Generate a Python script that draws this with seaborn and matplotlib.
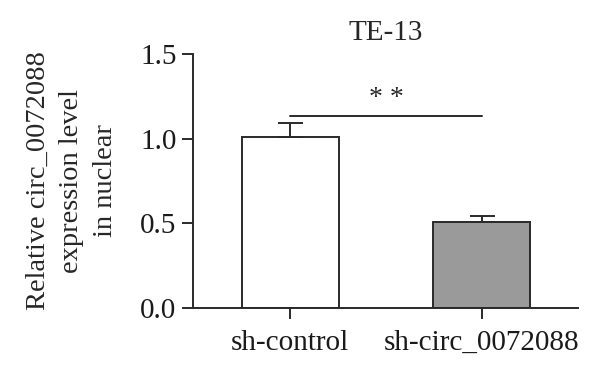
import numpy as np
import pandas as pd
import seaborn as sns
import matplotlib.pyplot as plt

groups = ['sh-control', 'sh-circ_0072088']
means = [1.01, 0.51]
errs = [0.085, 0.035]
colors = ['#ffffff', '#9a9a9a']
yticks = [0.0, 0.5, 1.0, 1.5]

sns.set_style('ticks')
plt.rcParams['font.family'] = ['Liberation Serif', 'DejaVu Serif']
plt.rcParams['font.size'] = 21

df = pd.DataFrame({'group': groups, 'value': means})

fig = plt.figure(figsize=(6, 3.77), dpi=100)
ax = fig.add_axes([0.322, 0.183, 0.641, 0.674])

sns.barplot(data=df, x='group', y='value', hue='group', palette=colors,
            width=0.505, edgecolor='#2a2a2a', linewidth=1.4, errorbar=None,
            legend=False, ax=ax)
ax.errorbar(range(len(groups)), means, yerr=[[0] * len(errs), errs], fmt='none',
            ecolor='#2a2a2a', elinewidth=1.4, capsize=9, capthick=1.4)

ax.plot([0, 1], [1.136, 1.136], color='#2a2a2a', lw=1.4, clip_on=False)
ax.text(0.5, 1.165, '* *', ha='center', va='bottom', fontsize=20)

ax.set_xlim(-0.505, 1.5)
ax.set_ylim(0, 1.5)
ax.set_yticks(yticks)
ax.set_yticklabels([f'{t:.1f}' for t in yticks])
ax.set_xlabel('')
ax.set_ylabel('Relative circ_0072088\nexpression level\nin nuclear', fontsize=20.5,
              linespacing=1.45, labelpad=16)
ax.set_title('TE-13', fontsize=21, pad=10)
sns.despine(ax=ax)
for s in ['left', 'bottom']:
    ax.spines[s].set_linewidth(1.4)
    ax.spines[s].set_color('#2a2a2a')
ax.tick_params(axis='both', length=8, width=1.4, color='#2a2a2a', labelcolor='#1a1a1a')
ax.tick_params(axis='x', pad=8)
ax.tick_params(axis='y', pad=4)

plt.savefig('out.png', dpi=100)
